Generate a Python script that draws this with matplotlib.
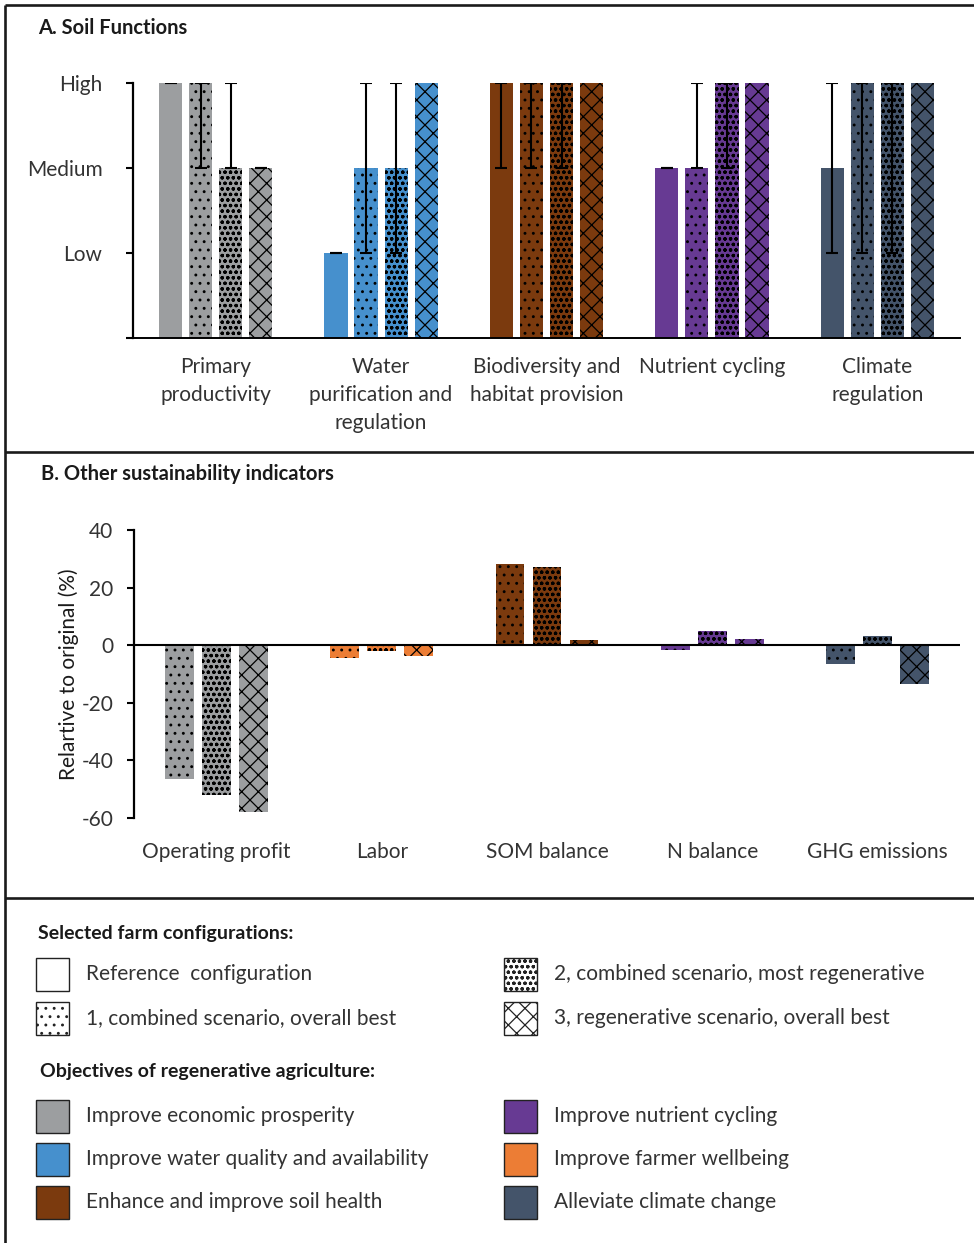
import numpy as np
import matplotlib.pyplot as plt
from matplotlib.patches import Rectangle

plt.rcParams['font.family'] = ['Lato', 'DejaVu Sans']
plt.rcParams['hatch.linewidth'] = 0.9
plt.rcParams['axes.unicode_minus'] = False

# ---- data ----
functions = ['Primary\nproductivity', 'Water\npurification and\nregulation',
             'Biodiversity and\nhabitat provision', 'Nutrient cycling', 'Climate\nregulation']
level_labels = ['', 'Low', 'Medium', 'High']

score_ref = [3, 1, 3, 2, 2]
score_s1 = [3, 2, 3, 2, 3]
score_s2 = [2, 2, 3, 3, 3]
score_s3 = [2, 3, 3, 3, 3]
# error ranges (lower, upper); None = no error bar
err_ref = [(0, 0), (0, 0), (1, 0), (0, 0), (1, 1)]
err_s1 = [(1, 0), (1, 1), (1, 0), (0, 1), (2, 0)]
err_s2 = [(0, 1), (1, 1), (1, 0), (1, 0), (2, 0)]
err_s3 = [(0, 0), None, None, None, None]

indicators = ['Operating profit', 'Labor', 'SOM balance', 'N balance', 'GHG emissions']
change_s1 = [-46.5, -4.3, 28.1, -1.5, -6.4]
change_s2 = [-52.1, -2.0, 27.3, 4.9, 3.3]
change_s3 = [-57.8, -3.9, 1.7, 2.1, -13.3]

config_names = ['Reference  configuration', '1, combined scenario, overall best',
                '2, combined scenario, most regenerative', '3, regenerative scenario, overall best']
objective_names = ['Improve economic prosperity', 'Improve water quality and availability',
                   'Enhance and improve soil health', 'Improve nutrient cycling',
                   'Improve farmer wellbeing', 'Alleviate climate change']

# ---- styles ----
grey, blue, brown, purple, orange, navy = '#9c9ea0', '#4690cd', '#7b3a0e', '#673a93', '#ec7d35', '#44546a'
function_colors = [grey, blue, brown, purple, navy]
indicator_colors = [grey, orange, brown, purple, navy]
objective_colors = [grey, blue, brown, purple, orange, navy]
hatches = [None, '..', 'ooo', 'xx']
txt = '#333333'

W, H = 974, 1243
fig = plt.figure(figsize=(W / 100, H / 100), dpi=100)


def px_axes(l, t, r, b, **kw):
    return fig.add_axes([l / W, 1 - b / H, (r - l) / W, (b - t) / H], **kw)


# frame + legend canvas
bg = px_axes(0, 0, W, H)
bg.set_xlim(0, W)
bg.set_ylim(H, 0)
bg.axis('off')
for y in [5, 452, 898]:
    bg.plot([5, W], [y, y], color='#1a1a1a', lw=1.9, solid_capstyle='butt')
bg.plot([5, 5], [5, H], color='#1a1a1a', lw=1.9, solid_capstyle='butt')
bg.text(38, 28, 'A. Soil Functions', fontsize=14.5, fontweight='bold', va='center', color='#1a1a1a')
bg.text(41, 474, 'B. Other sustainability indicators', fontsize=14.5, fontweight='bold',
        va='center', color='#1a1a1a')

# ---- panel A ----
axA = px_axes(133, 83, 960, 338)
x = np.arange(len(functions))
scores = [score_ref, score_s1, score_s2, score_s3]
errs = [err_ref, err_s1, err_s2, err_s3]
slot, bw = 0.182, 0.14
for i, (sc, er, ht) in enumerate(zip(scores, errs, hatches)):
    xs = x + (i - 1.5) * slot
    axA.bar(xs, sc, width=bw, color=function_colors, hatch=ht,
            edgecolor='black', linewidth=0, zorder=2)
    keep = [j for j, e in enumerate(er) if e is not None]
    lo = [er[j][0] for j in keep]
    hi = [er[j][1] for j in keep]
    axA.errorbar(xs[keep], np.array(sc)[keep], yerr=[lo, hi], fmt='none',
                 ecolor='black', elinewidth=1.5, capsize=4.5, capthick=1.5, zorder=3)
axA.set_xlim(-0.5, 4.5)
axA.set_ylim(0, 3)
axA.set_yticks([0, 1, 2, 3])
axA.set_yticklabels(level_labels)
axA.set_xticks(x)
axA.set_xticklabels(functions, linespacing=1.48)
axA.tick_params(axis='x', length=0, pad=14, labelsize=15, colors=txt)
axA.tick_params(axis='y', length=5, width=1.5, pad=17, labelsize=15, colors=txt)
axA.tick_params(axis='both', color='black')
for s in ['top', 'right']:
    axA.spines[s].set_visible(False)
axA.spines['left'].set_linewidth(1.6)
axA.spines['bottom'].set_linewidth(1.4)

# ---- panel B ----
axB = px_axes(134, 530, 960, 818)
changes = [change_s1, change_s2, change_s3]
slotB, bwB = 0.224, 0.175
for i, (ch, ht) in enumerate(zip(changes, hatches[1:])):
    axB.bar(x + (i - 1) * slotB, ch, width=bwB, color=indicator_colors, hatch=ht,
            edgecolor='black', linewidth=0, zorder=2)
axB.axhline(0, color='black', lw=1.5, zorder=3)
axB.set_xlim(-0.5, 4.5)
axB.set_ylim(-60, 40)
axB.set_yticks(np.arange(-60, 41, 20))
axB.set_xticks(x)
axB.set_xticklabels(indicators)
axB.tick_params(axis='x', length=0, pad=17, labelsize=15, colors=txt)
axB.tick_params(axis='y', length=5, width=1.5, pad=10, labelsize=15, colors=txt)
axB.tick_params(axis='both', color='black')
for s in ['top', 'right', 'bottom']:
    axB.spines[s].set_visible(False)
axB.spines['left'].set_linewidth(1.6)
axB.set_ylabel('Relartive to original (%)', fontsize=15, labelpad=2, color='#1a1a1a')

# ---- legend ----
bg.text(38, 933, 'Selected farm configurations:', fontsize=14, fontweight='bold', va='center',
        color='#1a1a1a')
bg.text(40, 1072, 'Objectives of regenerative agriculture:', fontsize=14, fontweight='bold',
        va='center', color='#1a1a1a')
cfg_pos = [(36, 974), (36, 1018), (504, 974), (504, 1018)]
for (bx, cy), name, ht in zip(cfg_pos, config_names, hatches):
    bg.add_patch(Rectangle((bx, cy - 16), 33, 33, facecolor='white', edgecolor='#222222',
                           lw=1.0, hatch=ht))
    bg.text(bx + 50, cy, name, fontsize=15, va='center', color=txt)
obj_pos = [(36, 1116), (36, 1159), (36, 1202), (504, 1116), (504, 1159), (504, 1202)]
for (bx, cy), name, col in zip(obj_pos, objective_names, objective_colors):
    bg.add_patch(Rectangle((bx, cy - 16), 33, 33, facecolor=col, edgecolor='#222222', lw=1.0))
    bg.text(bx + 50, cy, name, fontsize=15, va='center', color=txt)

fig.savefig('out.png', dpi=100)
